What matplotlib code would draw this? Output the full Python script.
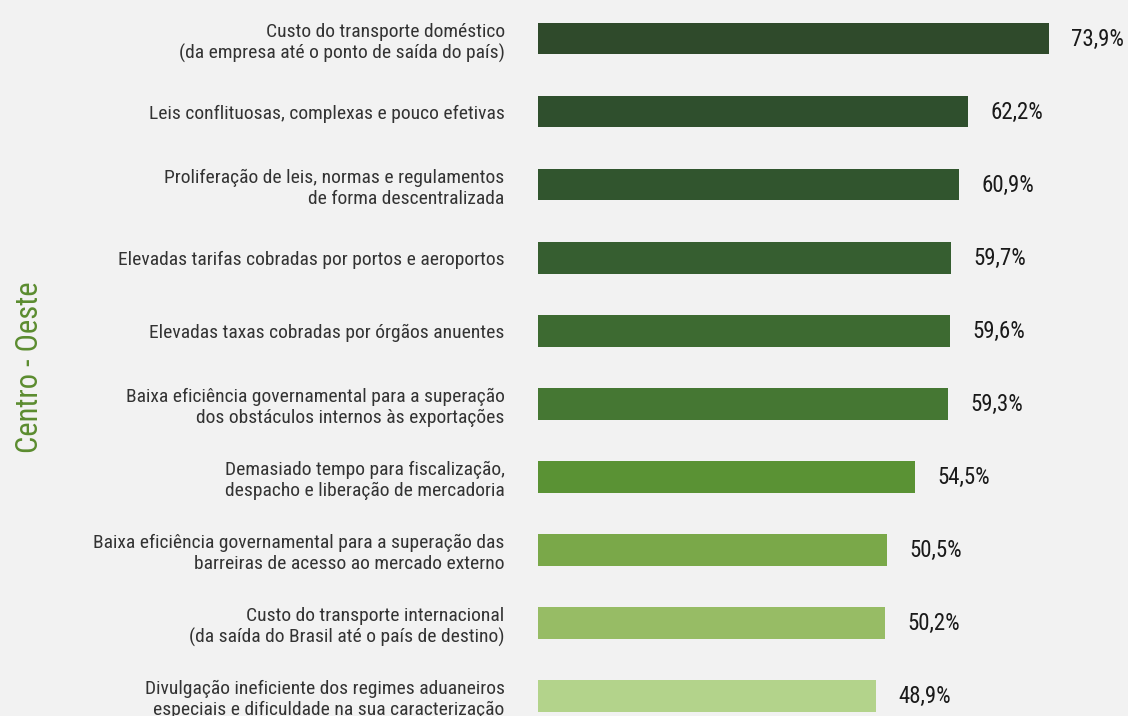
import matplotlib.pyplot as plt
from matplotlib import font_manager

# data
categories = [
    'Custo do transporte doméstico\n(da empresa até o ponto de saída do país)',
    'Leis conflituosas, complexas e pouco efetivas',
    'Proliferação de leis, normas e regulamentos\nde forma descentralizada',
    'Elevadas tarifas cobradas por portos e aeroportos',
    'Elevadas taxas cobradas por órgãos anuentes',
    'Baixa eficiência governamental para a superação\ndos obstáculos internos às exportações',
    'Demasiado tempo para fiscalização,\ndespacho e liberação de mercadoria',
    'Baixa eficiência governamental para a superação das\nbarreiras de acesso ao mercado externo',
    'Custo do transporte internacional\n(da saída do Brasil até o país de destino)',
    'Divulgação ineficiente dos regimes aduaneiros\nespeciais e dificuldade na sua caracterização',
]
values = [73.9, 62.2, 60.9, 59.7, 59.6, 59.3, 54.5, 50.5, 50.2, 48.9]
value_labels = ['73,9%', '62,2%', '60,9%', '59,7%', '59,6%',
                '59,3%', '54,5%', '50,5%', '50,2%', '48,9%']
bar_colors = ['#2f4a2b', '#2f4f2d', '#31552e', '#365e30', '#3d6a31',
              '#457733', '#5a9234', '#7aa849', '#97bc65', '#b3d38b']
region = 'Centro - Oeste'

# pick a narrow font if we have one
names = {f.name for f in font_manager.fontManager.ttflist}
fam = 'DejaVu Sans'
for cand in ['Roboto Condensed', 'Liberation Sans Narrow', 'DejaVu Sans Condensed']:
    if cand in names:
        fam = cand
        break
plt.rcParams['font.family'] = [fam, 'DejaVu Sans']

bg = '#f2f2f2'
fig = plt.figure(figsize=(11.28, 7.16), dpi=100, facecolor=bg)
ax = fig.add_axes([538 / 1128, 0, 590 / 1128, 1], facecolor=bg)

ypos = list(range(len(values)))
ax.barh(ypos, values, height=0.425, color=bar_colors)
for y, v, lab in zip(ypos, values, value_labels):
    ax.annotate(lab, (v, y), xytext=(22, 0), textcoords='offset pixels',
                va='center', ha='left', fontsize=16.5, color='#1a1a1a')

ax.set_xlim(0, 85.3)
ax.set_ylim(9.274, -0.534)
ax.set_yticks(ypos)
ax.set_yticklabels(categories, fontsize=14, color='#333333', linespacing=1.2)
ax.tick_params(axis='y', length=0, pad=24)
ax.set_xticks([])
for s in ax.spines.values():
    s.set_visible(False)

fig.text(30 / 1128, 1 - 367 / 716, region, rotation=90, va='center', ha='center',
         fontsize=22, color='#5b8c2f')

fig.savefig('out.png', dpi=100, facecolor=bg)
